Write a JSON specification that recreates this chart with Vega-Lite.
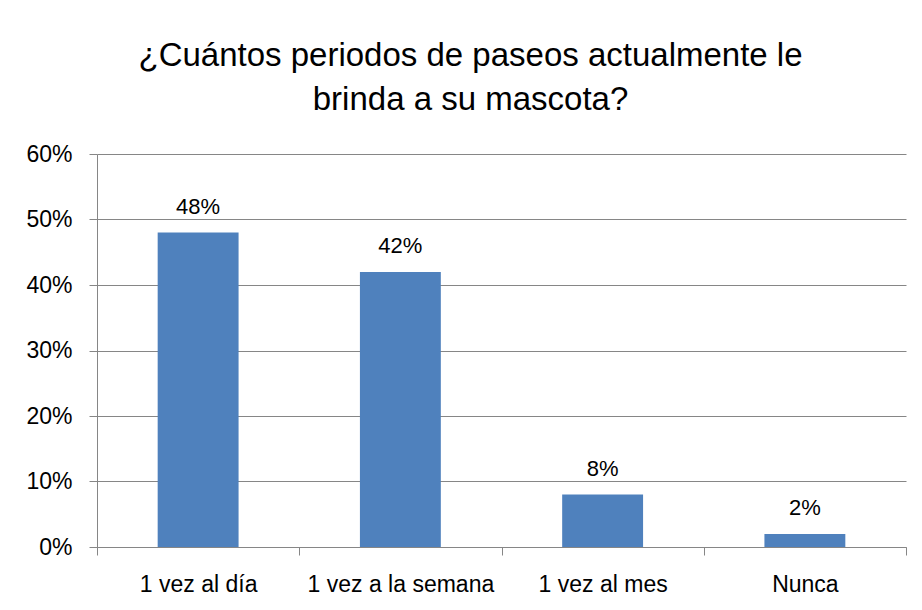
{
  "$schema": "https://vega.github.io/schema/vega-lite/v6.json",
  "width": 809,
  "height": 393,
  "autosize": "none",
  "padding": {"left": 97, "top": 154, "right": 16, "bottom": 63},
  "background": "white",
  "title": {
    "text": ["¿Cuántos periodos de paseos actualmente le", "brinda a su mascota?"],
    "font": "Liberation Sans",
    "fontSize": 33,
    "fontWeight": "normal",
    "color": "#000000",
    "lineHeight": 44,
    "anchor": "middle",
    "dx": -31,
    "dy": -22
  },
  "data": {
    "values": [
      {"categoria": "1 vez al día", "pct": 0.48},
      {"categoria": "1 vez a la semana", "pct": 0.42},
      {"categoria": "1 vez al mes", "pct": 0.08},
      {"categoria": "Nunca", "pct": 0.02}
    ]
  },
  "encoding": {
    "x": {
      "field": "categoria",
      "type": "nominal",
      "sort": null,
      "scale": {"paddingInner": 0, "paddingOuter": 0},
      "axis": {
        "title": null,
        "labelAngle": 0,
        "tickBand": "extent",
        "labelBaseline": "alphabetic",
        "labelPadding": 36,
        "labelOverlap": false,
        "labelLimit": 400,
        "grid": false
      }
    },
    "y": {
      "field": "pct",
      "type": "quantitative",
      "scale": {"domain": [0, 0.6], "nice": false},
      "axis": {
        "title": null,
        "values": [0, 0.1, 0.2, 0.3, 0.4, 0.5, 0.6],
        "format": ".0%",
        "labelPadding": 17,
        "grid": true
      }
    }
  },
  "layer": [
    {
      "mark": {"type": "bar", "color": "#4F81BD", "width": {"band": 0.4}}
    },
    {
      "mark": {
        "type": "text",
        "font": "Liberation Sans",
        "fontSize": 22,
        "color": "#000000",
        "baseline": "alphabetic",
        "dy": -19
      },
      "encoding": {
        "text": {"field": "pct", "type": "quantitative", "format": ".0%"}
      }
    }
  ],
  "config": {
    "view": {"stroke": null},
    "axis": {
      "domainColor": "#868686",
      "domainWidth": 1,
      "tickColor": "#868686",
      "tickWidth": 1,
      "tickSize": 8,
      "gridColor": "#868686",
      "gridWidth": 1,
      "gridOpacity": 1,
      "labelFont": "Liberation Sans",
      "labelFontSize": 23,
      "labelColor": "#000000"
    }
  }
}
